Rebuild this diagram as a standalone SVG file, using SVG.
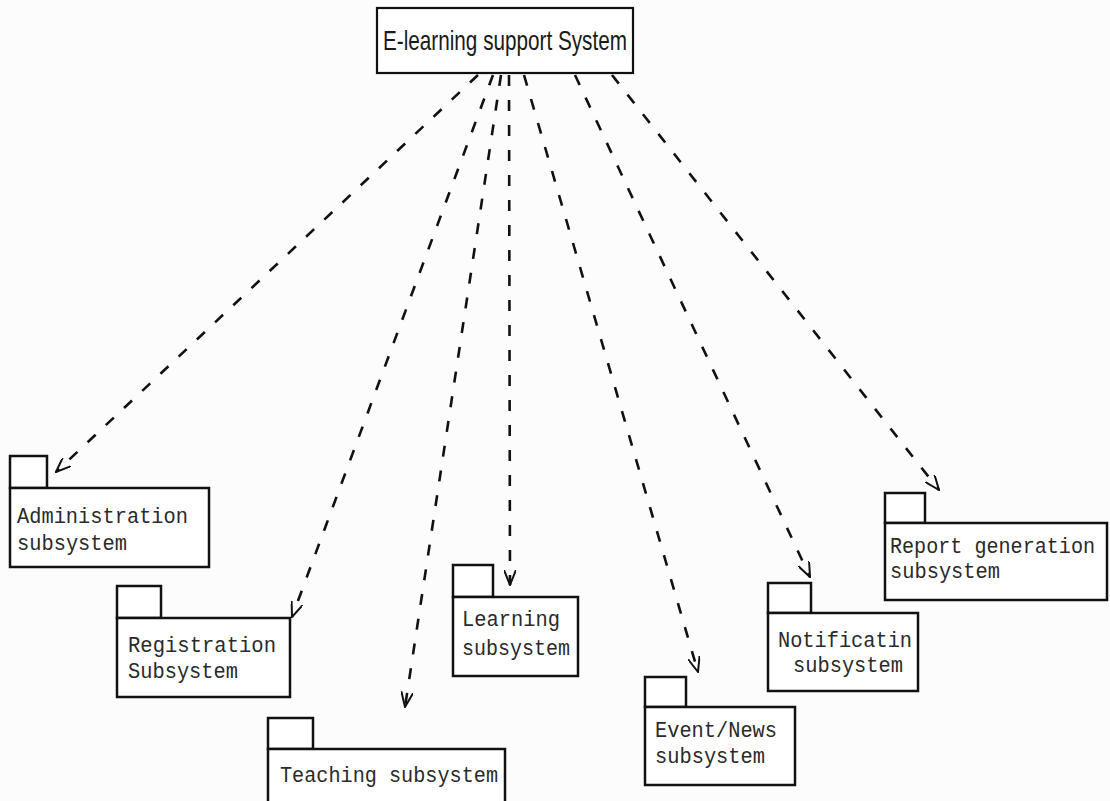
<svg xmlns="http://www.w3.org/2000/svg" width="1110" height="801" viewBox="0 0 1110 801">
<defs>
<style>
.box{fill:#fff;stroke:#111;stroke-width:2.5}
.top{fill:#fff;stroke:#111;stroke-width:2.2}
.lbl{font-family:"Liberation Mono","Courier New",monospace;font-size:22px;fill:#2a2a2a}
.ttl{font-family:"Liberation Sans",Arial,sans-serif;font-size:28px;fill:#1a1a1a}
.dep{fill:none;stroke:#111;stroke-width:2.6;stroke-dasharray:11 14;marker-end:url(#arr)}
</style>
<marker id="arr" viewBox="0 0 16 12" refX="15" refY="6" markerWidth="16" markerHeight="12" markerUnits="userSpaceOnUse" orient="auto">
<path d="M0,0 L15,6 L0,12" fill="none" stroke="#111" stroke-width="2"/>
</marker>
</defs>
<rect width="1110" height="801" fill="#fcfcfc"/>

<g id="connectors">
<line class="dep" x1="478" y1="75" x2="56" y2="472"/>
<line class="dep" x1="493" y1="75" x2="292" y2="617"/>
<line class="dep" x1="501" y1="75" x2="405" y2="707"/>
<line class="dep" x1="509" y1="75" x2="510" y2="585"/>
<line class="dep" x1="524" y1="75" x2="698" y2="672"/>
<line class="dep" x1="575" y1="75" x2="810" y2="577"/>
<line class="dep" x1="612" y1="75" x2="939" y2="490"/>
</g>

<g id="system">
<rect class="top" x="377" y="8" width="256" height="65"/>
<text class="ttl" x="383" y="50" textLength="244" lengthAdjust="spacingAndGlyphs">E-learning support System</text>
</g>

<g id="administration">
<rect class="box" x="10" y="456" width="37" height="32"/>
<rect class="box" x="10" y="488" width="199" height="79"/>
<text class="lbl" x="17" y="523" textLength="171" lengthAdjust="spacingAndGlyphs">Administration</text>
<text class="lbl" x="17" y="550" textLength="110" lengthAdjust="spacingAndGlyphs">subsystem</text>
</g>

<g id="registration">
<rect class="box" x="117" y="586" width="44" height="32"/>
<rect class="box" x="117" y="618" width="173" height="79"/>
<text class="lbl" x="128" y="652" textLength="148" lengthAdjust="spacingAndGlyphs">Registration</text>
<text class="lbl" x="128" y="678" textLength="110" lengthAdjust="spacingAndGlyphs">Subsystem</text>
</g>

<g id="teaching">
<rect class="box" x="268" y="718" width="45" height="31"/>
<rect class="box" x="268" y="749" width="237" height="60"/>
<text class="lbl" x="280" y="782" textLength="218" lengthAdjust="spacingAndGlyphs">Teaching subsystem</text>
</g>

<g id="learning">
<rect class="box" x="453" y="565" width="40" height="32"/>
<rect class="box" x="453" y="597" width="125" height="79"/>
<text class="lbl" x="462" y="626" textLength="98" lengthAdjust="spacingAndGlyphs">Learning</text>
<text class="lbl" x="462" y="655" textLength="108" lengthAdjust="spacingAndGlyphs">subsystem</text>
</g>

<g id="eventnews">
<rect class="box" x="645" y="677" width="41" height="30"/>
<rect class="box" x="645" y="707" width="150" height="78"/>
<text class="lbl" x="655" y="737" textLength="122" lengthAdjust="spacingAndGlyphs">Event/News</text>
<text class="lbl" x="655" y="763" textLength="110" lengthAdjust="spacingAndGlyphs">subsystem</text>
</g>

<g id="notification">
<rect class="box" x="768" y="583" width="43" height="30"/>
<rect class="box" x="768" y="613" width="150" height="78"/>
<text class="lbl" x="778" y="647" textLength="134" lengthAdjust="spacingAndGlyphs">Notificatin</text>
<text class="lbl" x="793" y="672" textLength="110" lengthAdjust="spacingAndGlyphs">subsystem</text>
</g>

<g id="report">
<rect class="box" x="885" y="493" width="40" height="30"/>
<rect class="box" x="885" y="523" width="222" height="77"/>
<text class="lbl" x="890" y="553" textLength="205" lengthAdjust="spacingAndGlyphs">Report generation</text>
<text class="lbl" x="890" y="578" textLength="110" lengthAdjust="spacingAndGlyphs">subsystem</text>
</g>
</svg>
